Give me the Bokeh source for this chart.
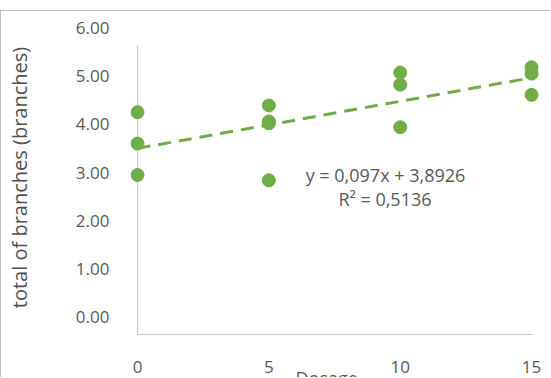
import numpy as np
from bokeh.plotting import figure
from bokeh.models import Range1d, FixedTicker, Label, Title
from bokeh.embed import file_html
from bokeh.resources import INLINE

# ---- data ----
dosage = [0, 0, 0, 5, 5, 5, 5, 10, 10, 10, 15, 15, 15]
branches = [4.25, 3.60, 2.95, 4.39, 4.06, 4.02, 2.84, 5.07, 4.82, 3.94, 5.18, 5.05, 4.61]
y_ticks = [0, 1, 2, 3, 4, 5, 6]
y_tick_labels = ["0.00", "1.00", "2.00", "3.00", "4.00", "5.00", "6.00"]
x_ticks = [0, 5, 10, 15]
x_tick_labels = ["0", "5", "10", "15"]
equation_text = "y = 0,097x + 3,8926"
r2_text = "R² = 0,5136"
x_title = "Dosage"
y_title = "total of branches (branches)"

GREEN = "#70AD47"
GRAY_TXT = "#595959"
AXIS_GRAY = "#C8C8C8"
FONT = "Open Sans"

p = figure(width=550, height=367, output_backend="svg", toolbar_location=None,
           x_range=Range1d(-0.2665, 15.645), y_range=Range1d(-0.373, 6.17),
           min_border_left=129, min_border_right=3, min_border_top=8, min_border_bottom=43,
           margin=(10, 0, 0, 0))
p.outline_line_color = None
p.grid.visible = False
p.background_fill_color = "white"
p.border_fill_color = "white"
p.styles = {"border-left": "1px solid #BFBFBF", "border-top": "1px solid #BFBFBF"}

# y axis
p.yaxis.ticker = FixedTicker(ticks=y_ticks)
p.yaxis.major_label_overrides = {t: s for t, s in zip(y_ticks, y_tick_labels)}
p.yaxis.axis_line_color = None
p.yaxis.major_tick_line_color = None
p.yaxis.minor_tick_line_color = None
p.yaxis.major_label_text_font = FONT
p.yaxis.major_label_text_font_size = "17px"
p.yaxis.major_label_text_color = GRAY_TXT
p.yaxis.major_label_standoff = 15
p.yaxis.axis_label = y_title
p.yaxis.axis_label_text_font = FONT
p.yaxis.axis_label_text_font_size = "20px"
p.yaxis.axis_label_text_font_style = "normal"
p.yaxis.axis_label_text_color = "#505050"
p.yaxis.axis_label_standoff = 40

# x axis
p.xaxis.ticker = FixedTicker(ticks=x_ticks)
p.xaxis.major_label_overrides = {t: s for t, s in zip(x_ticks, x_tick_labels)}
p.xaxis.axis_line_color = None
p.xaxis.major_tick_line_color = None
p.xaxis.minor_tick_line_color = None
p.xaxis.major_label_text_font = FONT
p.xaxis.major_label_text_font_size = "17px"
p.xaxis.major_label_text_color = GRAY_TXT
p.xaxis.major_label_standoff = 19

# x title, pulled up into the tick-label row (as in the reference)
p.add_layout(Title(text=x_title, align="left", offset=165, standoff=-24,
                   text_font=FONT, text_font_size="18px", text_font_style="normal",
                   text_color=GRAY_TXT), "below")

# axis lines drawn like Excel's (vertical at x=0, horizontal at bottom)
p.segment(x0=[0], y0=[-0.352], x1=[0], y1=[5.63], line_color=AXIS_GRAY, line_width=1.2)
p.segment(x0=[0], y0=[-0.352], x1=[15.04], y1=[-0.352], line_color=AXIS_GRAY, line_width=1.2)

# linear trend line
slope, intercept = np.polyfit(dosage, branches, 1)
tx = [min(dosage), max(dosage)]
ty = [intercept + slope * v for v in tx]
p.line(tx, ty, line_color=GREEN, line_width=3, line_dash="13 8")

# points
p.scatter(dosage, branches, size=13, fill_color=GREEN, line_color=GREEN)

# equation labels
p.add_layout(Label(x=9.44, y=2.94, text=equation_text, text_align="center", text_baseline="middle",
                   text_font=FONT, text_font_size="18px", text_color=GRAY_TXT))
p.add_layout(Label(x=9.42, y=2.45, text=r2_text, text_align="center", text_baseline="middle",
                   text_font=FONT, text_font_size="18px", text_color=GRAY_TXT))

open("out.html", "w").write(file_html(p, INLINE))
